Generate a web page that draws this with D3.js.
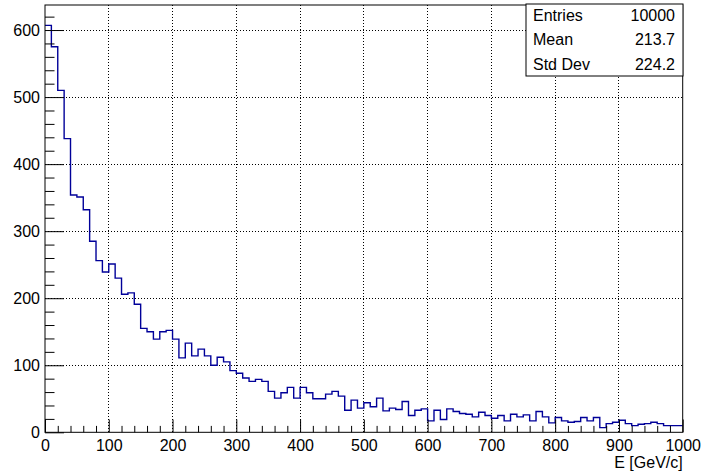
<!DOCTYPE html>
<html>
<head>
<meta charset="utf-8">
<script src="https://cdn.jsdelivr.net/npm/d3@7"></script>
<style>
  html, body { margin: 0; padding: 0; background: #fff; }
  svg { display: block; }
  text { font-family: "Liberation Sans", Arial, Helvetica, sans-serif; fill: #000; }
</style>
</head>
<body>
<svg id="chart" width="702" height="474"></svg>
<script>
// ---- data ----
const xMin = 0, xMax = 1000, binWidth = 10;
const counts = [
  607, 575, 510, 438, 354, 351, 332, 285, 256, 239,
  251, 230, 206, 208, 191, 155, 150, 139, 150, 152,
  139, 111, 133, 114, 124, 114, 100, 112, 105, 92,
  88, 81, 76, 79, 76, 61, 51, 59, 67, 51,
  67, 59, 50, 50, 57, 61, 54, 33, 48, 36,
  44, 38, 51, 32, 36, 34, 46, 25, 33, 35,
  17, 33, 19, 35, 31, 28, 27, 23, 30, 25,
  21, 25, 17, 27, 23, 26, 17, 31, 23, 14,
  22, 17, 15, 16, 22, 17, 22, 7, 13, 15,
  18, 13, 10, 12, 13, 15, 13, 10, 10, 10
];
const xTicks = [0, 100, 200, 300, 400, 500, 600, 700, 800, 900, 1000];
const yTicks = [0, 100, 200, 300, 400, 500, 600];
const statLabels = ["Entries", "Mean", "Std Dev"];
const statValues = ["10000", "213.7", "224.2"];
const xTitle = "E [GeV/c]";

// ---- layout ----
const svg = d3.select("#chart");
const L = 45, R = 682.7, T = 5, B = 432.3;
const yMax = d3.max(counts) * 1.05;
const x = d3.scaleLinear().domain([xMin, xMax]).range([L, R]);
const y = d3.scaleLinear().domain([0, yMax]).range([B, T]);
const fontSize = 16;

// grid
const grid = svg.append("g");
grid.selectAll("line.gx").data(xTicks.filter(d => d > xMin && d < xMax)).enter()
  .append("line").attr("x1", d => x(d)).attr("x2", d => x(d))
  .attr("y1", T).attr("y2", B)
  .attr("stroke", "#000").attr("stroke-width", 1).attr("stroke-dasharray", "1,2")
  .attr("shape-rendering", "crispEdges");
grid.selectAll("line.gy").data(yTicks.filter(d => d > 0)).enter()
  .append("line").attr("x1", L).attr("x2", R)
  .attr("y1", d => y(d)).attr("y2", d => y(d))
  .attr("stroke", "#000").attr("stroke-width", 1).attr("stroke-dasharray", "1,2")
  .attr("shape-rendering", "crispEdges");

// histogram step path
let pts = [];
counts.forEach((c, i) => {
  const x0 = xMin + i * binWidth, x1 = x0 + binWidth;
  pts.push([x(x0), y(c)]);
  pts.push([x(x1), y(c)]);
});
svg.append("path")
  .attr("d", d3.line()(pts))
  .attr("fill", "none")
  .attr("stroke", "#000099")
  .attr("stroke-width", 1.4);

// minor ticks
const xMinor = d3.range(xMin, xMax + 0.001, 20).filter(v => xTicks.indexOf(v) < 0);
const yMinor = d3.range(0, yMax, 20).filter(v => yTicks.indexOf(v) < 0);

const xAxis = d3.axisBottom(x).tickValues(xTicks).tickSize(-12.8).tickPadding(7.8)
  .tickFormat(d3.format("d"));
const gx = svg.append("g").attr("transform", `translate(0,${B})`).call(xAxis);
gx.select(".domain").remove();
gx.selectAll("text").attr("font-size", fontSize).style("font-family", "Liberation Sans, Arial, sans-serif").attr("fill", "#000");
gx.selectAll("line").attr("stroke", "#000");

const gxm = svg.append("g").attr("transform", `translate(0,${B})`)
  .call(d3.axisBottom(x).tickValues(xMinor).tickSize(-6.4).tickFormat(""));
gxm.select(".domain").remove();
gxm.selectAll("line").attr("stroke", "#000");

const yAxis = d3.axisLeft(y).tickValues(yTicks).tickSize(-19).tickPadding(5)
  .tickFormat(d3.format("d"));
const gy = svg.append("g").attr("transform", `translate(${L},0)`).call(yAxis);
gy.select(".domain").remove();
gy.selectAll("text").attr("font-size", fontSize).style("font-family", "Liberation Sans, Arial, sans-serif").attr("fill", "#000");
gy.selectAll("line").attr("stroke", "#000");

const gym = svg.append("g").attr("transform", `translate(${L},0)`)
  .call(d3.axisLeft(y).tickValues(yMinor).tickSize(-9.5).tickFormat(""));
gym.select(".domain").remove();
gym.selectAll("line").attr("stroke", "#000");

// frame
svg.append("rect").attr("x", L).attr("y", T).attr("width", R - L).attr("height", B - T)
  .attr("fill", "none").attr("stroke", "#000").attr("stroke-width", 1);

// axis title
svg.append("text").attr("x", R).attr("y", 468).attr("text-anchor", "end")
  .attr("font-size", fontSize).text(xTitle);

// stats box
const sb = { x0: 526, x1: 683, y0: 4, y1: 76 };
svg.append("rect").attr("x", sb.x0).attr("y", sb.y0)
  .attr("width", sb.x1 - sb.x0).attr("height", sb.y1 - sb.y0)
  .attr("fill", "#fff").attr("stroke", "#000").attr("stroke-width", 1);
const rowBase = [21, 45, 69.5];
statLabels.forEach((lab, i) => {
  svg.append("text").attr("x", 533).attr("y", rowBase[i]).attr("font-size", 16).text(lab);
  svg.append("text").attr("x", 675).attr("y", rowBase[i]).attr("font-size", 16)
    .attr("text-anchor", "end").text(statValues[i]);
});
</script>
</body>
</html>
